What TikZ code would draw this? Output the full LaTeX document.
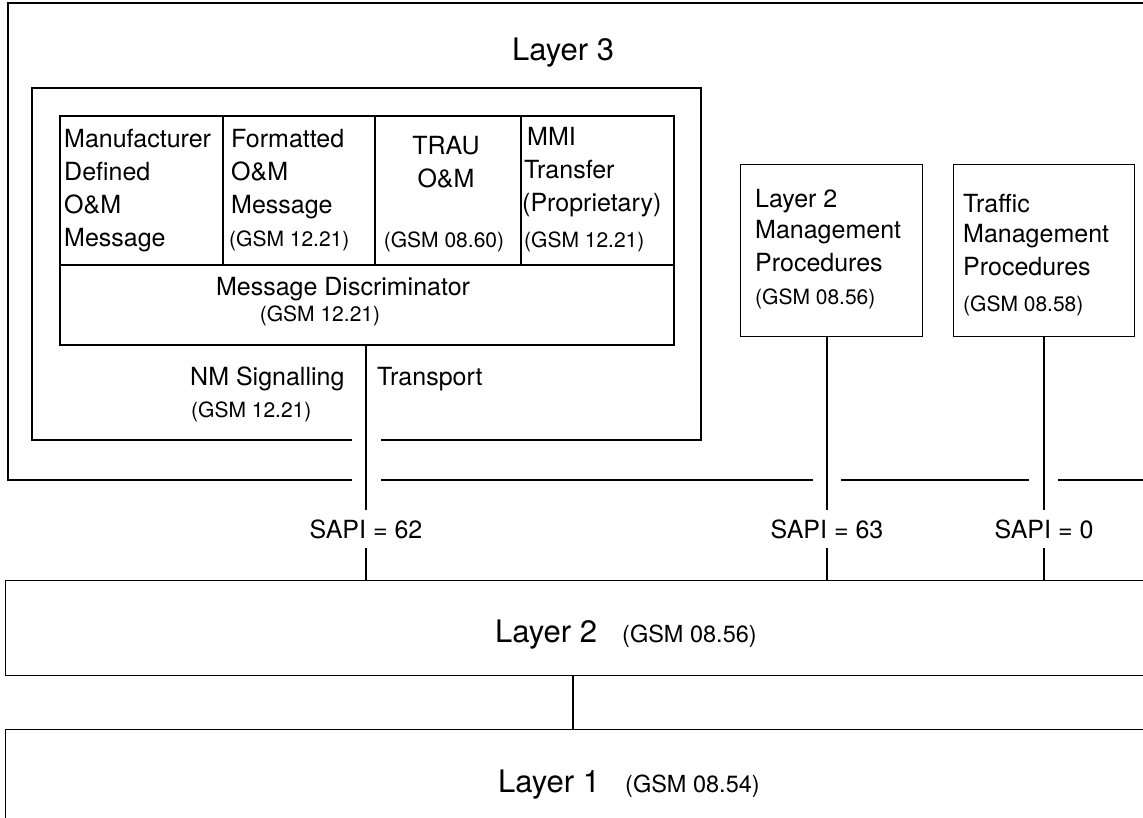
\documentclass[tikz,border=0pt]{standalone}
\usepackage{fontspec}
\setmainfont{TeX Gyre Heros}
\newcommand\fbig{\fontsize{31}{37}\selectfont}
\newcommand\fmain{\fontsize{25}{33}\selectfont}
\newcommand\fmid{\fontsize{23.5}{28}\selectfont}
\newcommand\fsmall{\fontsize{21}{26}\selectfont}
\begin{document}
\begin{tikzpicture}[x=1pt,y=-1pt,
  frame/.style={line width=1.3pt},
  tab/.style={draw, line width=1.8pt, inner sep=0, anchor=north west},
  box/.style={draw, line width=1.3pt, inner sep=0, anchor=north west},
  conn/.style={line width=1.7pt},
  txt/.style={anchor=base west, inner sep=0, font=\fmain},
  ctxt/.style={anchor=base, inner sep=0, font=\fmain},
  stxt/.style={anchor=base west, inner sep=0, font=\fsmall},
  cstxt/.style={anchor=base, inner sep=0, font=\fsmall},
  sapi/.style={anchor=base, inner xsep=2pt, inner ysep=9.5pt, font=\fmain}]
\useasboundingbox (0,0) rectangle (1143,818);
\fill[white] (0,0) rectangle (1143,818);
\clip (0,0) rectangle (1143,818);

% Layer 3 outer frame (with gaps)
\draw[frame] (352,480) -- (8,480) -- (8,3) -- (1160,3);
\draw[frame] (381,480) -- (813,480);
\draw[frame] (841,480) -- (1029,480);
\draw[frame] (1058,480) -- (1160,480);
\node[font=\fbig, anchor=base west, inner sep=0] (l3) at (512,61) {Layer 3};

% inner NM signalling frame
\draw[frame] (352,440) -- (32,440) -- (32,88) -- (701,88) -- (701,440) -- (381,440);

% table
\node[tab, minimum width=163pt, minimum height=149pt] (c1) at (59,115) {};
\node[tab, minimum width=152pt, minimum height=149pt] (c2) at (222,115) {};
\node[tab, minimum width=146pt, minimum height=149pt] (c3) at (374,115) {};
\node[tab, minimum width=153pt, minimum height=149pt] (c4) at (520,115) {};
\node[tab, minimum width=614pt, minimum height=80pt] (md) at (59,264) {};

\node[txt] (c1a) at (64,148) {Manufacturer};
\node[txt] (c1b) at (64,181) {Defined};
\node[txt] (c1c) at (64,214) {O\&M};
\node[txt] (c1d) at (64,247) {Message};

\node[txt] (c2a) at (231,148) {Formatted};
\node[txt] (c2b) at (231,181) {O\&M};
\node[txt] (c2c) at (231,214) {Message};
\node[stxt] (c2d) at (229,247) {(GSM 12.21)};

\node[ctxt] (c3a) at (446,155) {TRAU};
\node[ctxt] (c3b) at (446,188) {O\&M};
\node[cstxt] (c3c) at (444,248) {(GSM 08.60)};

\node[txt] (c4a) at (527,146) {MMI};
\node[txt] (c4b) at (524,179) {Transfer};
\node[txt] (c4c) at (522,212) {(Proprietary)};
\node[stxt] (c4d) at (524,248) {(GSM 12.21)};

\node[ctxt] (mda) at (343,295) {Message Discriminator};
\node[cstxt] (mdb) at (320,322) {(GSM 12.21)};

\node[txt] (nma) at (190,385) {NM Signalling};
\node[stxt] (nmb) at (191,417) {(GSM 12.21)};
\node[txt] (nmc) at (377,385) {Transport};

% right boxes
\node[box, minimum width=182pt, minimum height=172pt] (l2m) at (740,164) {};
\node[box, minimum width=181pt, minimum height=172pt] (tm) at (953,164) {};

\node[txt] (l2ma) at (755,208) {Layer 2};
\node[txt] (l2mb) at (755,239) {Management};
\node[txt] (l2mc) at (755,272) {Procedures};
\node[stxt] (l2md) at (755,305) {(GSM 08.56)};

\node[txt] (tma) at (963,213) {Traffic};
\node[txt] (tmb) at (963,243) {Management};
\node[txt] (tmc) at (963,276) {Procedures};
\node[stxt] (tmd) at (963,312) {(GSM 08.58)};

% Layer 2 and Layer 1
\node[box, minimum width=1160pt, minimum height=95pt] (lay2) at (5,580) {};
\node[box, minimum width=1160pt, minimum height=110pt] (lay1) at (5,729) {};
\node[font=\fbig, anchor=base west, inner sep=0] (lay2a) at (495,642) {Layer 2};
\node[font=\fmid, anchor=base west, inner sep=0] (lay2b) at (622,642) {(GSM 08.56)};
\node[font=\fbig, anchor=base west, inner sep=0] (lay1a) at (498,792) {Layer 1};
\node[font=\fmid, anchor=base west, inner sep=0] (lay1b) at (625,792) {(GSM 08.54)};

% SAPI labels
\node[sapi] (s62) at (366,538) {SAPI = 62};
\node[sapi] (s63) at (827,538) {SAPI = 63};
\node[sapi] (s0) at (1044,538) {SAPI = 0};

% connectors
\draw[conn] (md.south -| s62) -- (s62.north);
\draw[conn] (s62.south) -- (s62.south |- lay2.north);
\draw[conn] (l2m.south -| s63) -- (s63.north);
\draw[conn] (s63.south) -- (s63.south |- lay2.north);
\draw[conn] (tm.south -| s0) -- (s0.north);
\draw[conn] (s0.south) -- (s0.south |- lay2.north);
\coordinate (mid) at (573,700);
\draw[conn, line width=1.3pt] (mid |- lay2.south) -- (mid |- lay1.north);
\end{tikzpicture}
\end{document}
